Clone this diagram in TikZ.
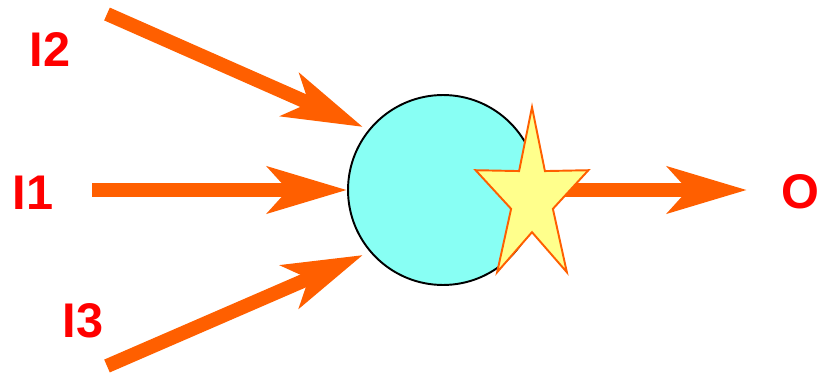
\documentclass[tikz,border=0pt]{standalone}
\usepackage{fontspec}
\setmainfont{Liberation Sans}
\usepackage{tikz}
\usetikzlibrary{arrows.meta,shapes.geometric}
\usepackage{xcolor}
\definecolor{flowor}{RGB}{255,95,0}
\definecolor{cellcy}{RGB}{136,255,244}
\definecolor{staryl}{RGB}{255,255,140}

\begin{document}
\begin{tikzpicture}[x=0.02cm, y=-0.02cm,
  lbl/.style={text=red, inner sep=0pt, font=\fontsize{27.7}{30}\selectfont\bfseries},
  cell/.style={circle, draw=black, line width=1.1pt, fill=cellcy, minimum size=3.8cm, inner sep=0pt},
  fire/.style={star, star points=5, star point ratio=2.7, draw=flowor, line width=1.1pt, fill=staryl,
    minimum size=3.65cm, inner sep=0pt, xscale=0.65},
  flow/.style={-{Stealth[length=1.58cm, width=0.92cm, inset=0.4cm]}, line width=0.28cm, draw=flowor}
]
\useasboundingbox (0,0) rectangle (825,375);
\node[lbl] (l2) at (50,50) {I2};
\node[lbl] (l1) at (33,193) {I1};
\node[lbl] (l3) at (83,321) {I3};
\node[lbl] (lo) at (800,192) {O};
\node[cell] (c) at (443,190) {};
\coordinate (i2s) at (107,14);
\coordinate (i2e) at (363,127);
\coordinate (i1s) at (92,190);
\coordinate (i1e) at (347,190);
\coordinate (i3s) at (107,366);
\coordinate (i3e) at (363,255);
\coordinate (os) at (530,190);
\coordinate (oe) at (747,190);
\draw[flow] (i2s) -- (i2e);
\draw[flow] (i1s) -- (i1e);
\draw[flow] (i3s) -- (i3e);
\draw[flow] (os) -- (oe);
\node[fire] (s) at (532,198.4) {};
\end{tikzpicture}
\end{document}
